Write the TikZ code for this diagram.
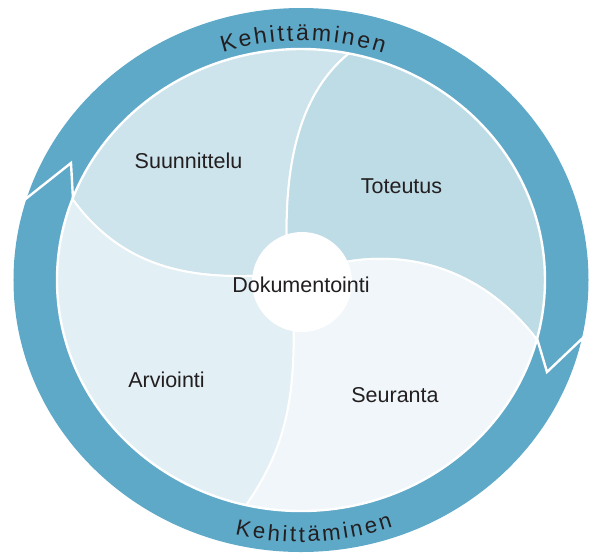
\documentclass[tikz,border=0pt]{standalone}
\usepackage{fontspec}
\setmainfont{Liberation Sans}
\usetikzlibrary{decorations.text}
\definecolor{ringblue}{RGB}{94,168,200}
\definecolor{planblue}{RGB}{205,228,236}
\definecolor{doblue}{RGB}{190,220,230}
\definecolor{followblue}{RGB}{240,246,249}
\definecolor{evalblue}{RGB}{226,239,244}
\definecolor{inkgray}{RGB}{35,31,32}

\begin{document}
\begin{tikzpicture}[x=0.5pt, y=0.5pt,
  seam/.style={draw=white, line width=1pt},
  phase/.style={text=inkgray, font=\fontsize{10.75}{13}\selectfont},
  ringtext/.style={decorate, decoration={text along path, text align=fit to path,
    text color=inkgray, text={|\fontsize{#1}{14}\selectfont|Kehittäminen}}}]
\useasboundingbox (-301,-274) rectangle (288,280);

% Ring
\fill[ringblue] (0,0) ellipse [x radius=287.5, y radius=272];
\draw[seam, line width=1.2pt] (-283,75) -- (-230,117) -- (-227.5,72);
\draw[seam, line width=1.2pt] (235,-55) -- (246,-92) -- (297,-43.5);

% Inner disk
\begin{scope}
\clip (0,0) ellipse [x radius=244, y radius=231];
\filldraw[fill=planblue, seam] (0,0) -- (-14,30) .. controls (-18,140) and (10,200) .. (55,232) -- (55,300) -- (-300,300) -- (-300,95) -- (-238,95) .. controls (-185,10) and (-110,0) .. (-30,5) -- cycle;
\filldraw[fill=doblue, seam] (0,0) -- (-14,30) .. controls (-18,140) and (10,200) .. (55,232) -- (55,300) -- (300,300) -- (300,-80) -- (250,-80) .. controls (195,8) and (110,35) .. (30,15) -- cycle;
\filldraw[fill=followblue, seam] (0,0) -- (30,15) .. controls (110,35) and (195,8) .. (250,-80) -- (300,-80) -- (300,-300) -- (-66,-300) -- (-66,-240) .. controls (-20,-180) and (-4,-130) .. (-8,-30) -- cycle;
\filldraw[fill=evalblue, seam] (0,0) -- (-8,-30) .. controls (-4,-130) and (-20,-180) .. (-66,-240) -- (-66,-300) -- (-300,-300) -- (-300,95) -- (-238,95) .. controls (-185,10) and (-110,0) .. (-30,5) -- cycle;
\end{scope}
\draw[seam, line width=1.2pt] (0,0) ellipse [x radius=244, y radius=231];
\fill[white] (1,-2) circle [radius=50];

% Labels
\node[phase] (plan) at (-112.5,119) {Suunnittelu};
\node[phase] (impl) at (100.5,94) {Toteutus};
\node[phase] (follow) at (94,-115) {Seuranta};
\node[phase] (eval) at (-134.5,-100) {Arviointi};
\node[phase] (docu) at (0,-5) {Dokumentointi};

% Ring text
\path[ringtext=11.5] (108:253 and 239.3) arc [start angle=108, end angle=71, x radius=253, y radius=239.3];
\path[ringtext=11.1] (256.2:277 and 262) arc [start angle=256.2, end angle=289.4, x radius=277, y radius=262];
\end{tikzpicture}
\end{document}
